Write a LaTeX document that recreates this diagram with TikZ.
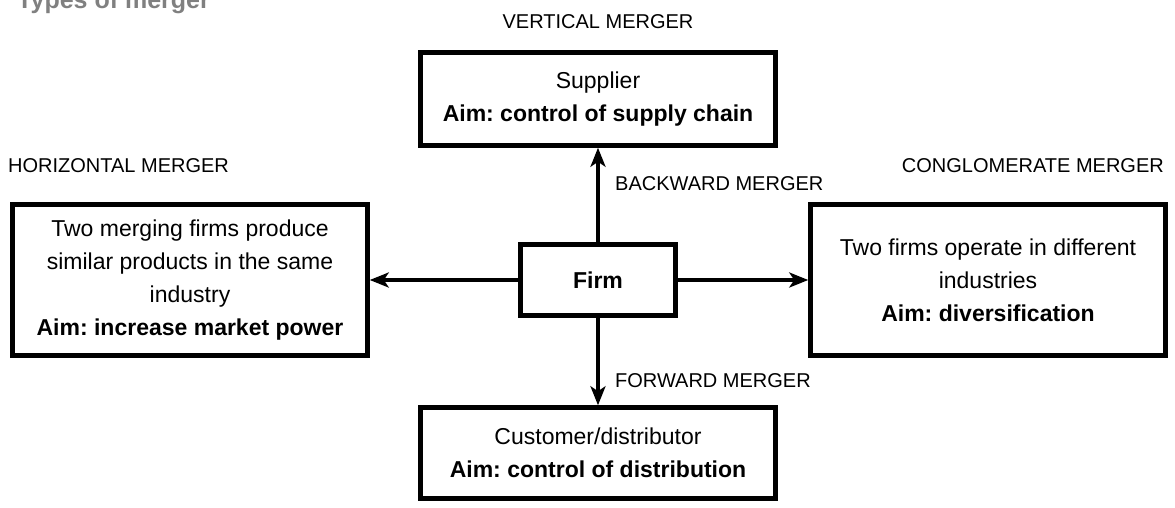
\documentclass[tikz,border=0pt]{standalone}
\usepackage{fontspec}
\setmainfont{Liberation Sans}
\usetikzlibrary{arrows.meta}
\frenchspacing
\begin{document}
\begin{tikzpicture}[x=1pt,y=-1pt,
        box/.style={draw,line width=4.5pt,align=center,inner sep=0pt,
          font=\fontsize{23}{33}\selectfont},
        link/.style={line width=3.3pt,-{Stealth[length=19pt,width=15pt,inset=5pt]}},
        tag/.style={inner sep=0pt,font=\fontsize{20}{24}\selectfont}]
        \useasboundingbox (0,0) rectangle (1175,507);
        \node[anchor=base west,inner sep=0pt,text=black!50,
          font=\bfseries\fontsize{25}{30}\selectfont] (title) at (17,8) {Types of merger};
        \node[box,minimum width=355pt,minimum height=93pt] (supplier) at (598,99)
          {Supplier\\\textbf{Aim: control of supply chain}};
        \node[box,minimum width=355pt,minimum height=151pt] (horizontal) at (190,280)
          {Two merging firms produce\\similar products in the same\\industry\\\textbf{Aim: increase market power}};
        \node[box,minimum width=355pt,minimum height=151pt] (conglomerate) at (988,280)
          {Two firms operate in different\\industries\\\textbf{Aim: diversification}};
        \node[box,minimum width=155pt,minimum height=71pt] (firm) at (598,280) {\textbf{Firm}};
        \node[box,minimum width=355pt,minimum height=91pt] (customer) at (598,453)
          {Customer/distributor\\\textbf{Aim: control of distribution}};
        \node[tag,anchor=base] (vertical) at (598,28) {VERTICAL MERGER};
        \node[tag,anchor=base west] (horizontaltag) at (8,172) {HORIZONTAL MERGER};
        \node[tag,anchor=base east] (conglomeratetag) at (1164,172) {CONGLOMERATE MERGER};
        \node[tag,anchor=base west] (backward) at (615,190) {BACKWARD MERGER};
        \node[tag,anchor=base west] (forward) at (615,387) {FORWARD MERGER};
        \draw[link] (firm) -- (supplier);
        \draw[link] (firm) -- (customer);
        \draw[link] (firm) -- (horizontal);
        \draw[link] (firm) -- (conglomerate);
      \end{tikzpicture}
\end{document}
